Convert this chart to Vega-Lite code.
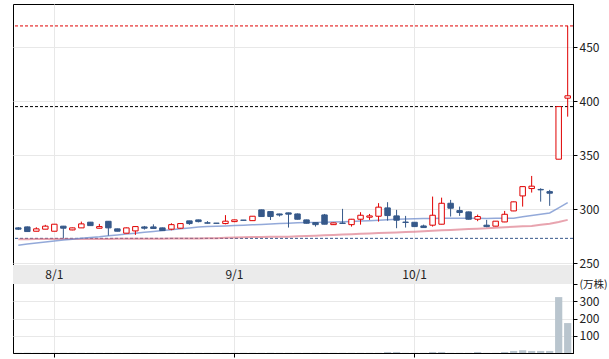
{
  "$schema": "https://vega.github.io/schema/vega-lite/v6.json",
  "width": 560,
  "height": 349,
  "padding": {"left": 12, "top": 4, "right": 0, "bottom": 0},
  "autosize": {"type": "pad"},
  "background": "#ffffff",
  "config": {
    "view": {"stroke": "#000000", "strokeWidth": 1},
    "axis": {"labelFont": "Noto Sans CJK JP", "labelFontSize": 12, "labelColor": "#222222", "gridColor": "#e8e8e8", "domainColor": "#000000", "tickColor": "#000000", "tickSize": 4, "labelPadding": 2}
  },
  "datasets": {
    "k": [
      {"d": "2020-07-28", "o": 282.7, "h": 283.5, "l": 280.7, "c": 281.5, "v": 1, "ma1": 266.7, "ma2": 272.2},
      {"d": "2020-07-29", "o": 283.6, "h": 284.0, "l": 279.0, "c": 279.3, "v": 1, "ma1": 267.7, "ma2": 272.2},
      {"d": "2020-07-30", "o": 279.6, "h": 283.3, "l": 279.6, "c": 281.8, "v": 1, "ma1": 268.7, "ma2": 272.3},
      {"d": "2020-07-31", "o": 281.5, "h": 285.5, "l": 281.5, "c": 284.3, "v": 1, "ma1": 269.6, "ma2": 272.3},
      {"d": "2020-08-03", "o": 279.6, "h": 286.1, "l": 279.6, "c": 286.1, "v": 1, "ma1": 270.6, "ma2": 272.3},
      {"d": "2020-08-04", "o": 284.3, "h": 284.5, "l": 273.0, "c": 282.4, "v": 1, "ma1": 271.4, "ma2": 272.4},
      {"d": "2020-08-05", "o": 280.8, "h": 283.0, "l": 280.5, "c": 282.7, "v": 1, "ma1": 272.2, "ma2": 272.4},
      {"d": "2020-08-06", "o": 282.7, "h": 288.5, "l": 282.7, "c": 286.4, "v": 1, "ma1": 273.0, "ma2": 272.4},
      {"d": "2020-08-07", "o": 288.0, "h": 288.2, "l": 284.8, "c": 284.8, "v": 1, "ma1": 273.8, "ma2": 272.5},
      {"d": "2020-08-11", "o": 282.4, "h": 286.4, "l": 282.4, "c": 283.9, "v": 1, "ma1": 274.5, "ma2": 272.5},
      {"d": "2020-08-12", "o": 288.8, "h": 289.0, "l": 275.6, "c": 282.7, "v": 1, "ma1": 275.4, "ma2": 272.5},
      {"d": "2020-08-13", "o": 281.8, "h": 282.0, "l": 279.5, "c": 279.6, "v": 1, "ma1": 276.2, "ma2": 272.6},
      {"d": "2020-08-14", "o": 277.8, "h": 283.0, "l": 277.8, "c": 282.7, "v": 1, "ma1": 277.0, "ma2": 272.6},
      {"d": "2020-08-17", "o": 279.9, "h": 284.0, "l": 276.2, "c": 283.9, "v": 1, "ma1": 277.8, "ma2": 272.6},
      {"d": "2020-08-18", "o": 283.6, "h": 284.5, "l": 281.1, "c": 282.4, "v": 1, "ma1": 278.6, "ma2": 272.7},
      {"d": "2020-08-19", "o": 283.6, "h": 286.0, "l": 281.8, "c": 282.1, "v": 1, "ma1": 279.4, "ma2": 272.7},
      {"d": "2020-08-20", "o": 282.7, "h": 283.0, "l": 280.0, "c": 280.2, "v": 1, "ma1": 280.2, "ma2": 272.7},
      {"d": "2020-08-21", "o": 281.5, "h": 287.0, "l": 280.5, "c": 285.7, "v": 1, "ma1": 281.0, "ma2": 272.8},
      {"d": "2020-08-24", "o": 282.4, "h": 287.0, "l": 282.0, "c": 286.7, "v": 1, "ma1": 281.8, "ma2": 272.8},
      {"d": "2020-08-25", "o": 289.2, "h": 289.3, "l": 285.5, "c": 286.7, "v": 1, "ma1": 282.6, "ma2": 272.9},
      {"d": "2020-08-26", "o": 290.1, "h": 290.3, "l": 287.8, "c": 288.5, "v": 1, "ma1": 283.5, "ma2": 272.9},
      {"d": "2020-08-27", "o": 287.4, "h": 289.0, "l": 286.7, "c": 287.1, "v": 1, "ma1": 283.9, "ma2": 273.0},
      {"d": "2020-08-28", "o": 287.1, "h": 287.2, "l": 286.8, "c": 286.9, "v": 1, "ma1": 284.2, "ma2": 273.1},
      {"d": "2020-08-31", "o": 286.7, "h": 294.5, "l": 286.0, "c": 288.9, "v": 1, "ma1": 284.5, "ma2": 273.6},
      {"d": "2020-09-01", "o": 288.5, "h": 290.3, "l": 288.0, "c": 290.1, "v": 1, "ma1": 284.8, "ma2": 273.9},
      {"d": "2020-09-02", "o": 289.9, "h": 290.0, "l": 289.6, "c": 289.7, "v": 1, "ma1": 285.1, "ma2": 274.1},
      {"d": "2020-09-03", "o": 289.4, "h": 293.5, "l": 289.4, "c": 293.5, "v": 1, "ma1": 285.5, "ma2": 274.2},
      {"d": "2020-09-04", "o": 299.4, "h": 299.6, "l": 293.2, "c": 293.2, "v": 1, "ma1": 285.9, "ma2": 274.3},
      {"d": "2020-09-07", "o": 297.8, "h": 298.0, "l": 290.0, "c": 293.2, "v": 1, "ma1": 286.3, "ma2": 274.4},
      {"d": "2020-09-08", "o": 295.6, "h": 295.8, "l": 293.2, "c": 294.6, "v": 1, "ma1": 286.7, "ma2": 274.5},
      {"d": "2020-09-09", "o": 296.6, "h": 296.8, "l": 283.0, "c": 295.4, "v": 1, "ma1": 287.1, "ma2": 274.6},
      {"d": "2020-09-10", "o": 295.6, "h": 296.0, "l": 290.5, "c": 290.7, "v": 1, "ma1": 287.5, "ma2": 274.9},
      {"d": "2020-09-11", "o": 290.1, "h": 290.3, "l": 286.8, "c": 287.0, "v": 1, "ma1": 287.7, "ma2": 275.2},
      {"d": "2020-09-14", "o": 287.6, "h": 288.0, "l": 283.9, "c": 285.7, "v": 1, "ma1": 287.8, "ma2": 275.5},
      {"d": "2020-09-15", "o": 294.7, "h": 295.6, "l": 286.0, "c": 286.1, "v": 1, "ma1": 287.9, "ma2": 275.9},
      {"d": "2020-09-16", "o": 285.7, "h": 287.5, "l": 285.5, "c": 287.3, "v": 1, "ma1": 288.1, "ma2": 276.2},
      {"d": "2020-09-17", "o": 287.2, "h": 300.3, "l": 286.5, "c": 286.8, "v": 1, "ma1": 288.3, "ma2": 276.5},
      {"d": "2020-09-18", "o": 285.7, "h": 291.0, "l": 283.9, "c": 290.7, "v": 1, "ma1": 288.6, "ma2": 276.9},
      {"d": "2020-09-23", "o": 290.7, "h": 297.2, "l": 285.7, "c": 294.4, "v": 1, "ma1": 289.0, "ma2": 277.2},
      {"d": "2020-09-24", "o": 292.6, "h": 295.6, "l": 290.1, "c": 293.8, "v": 1, "ma1": 289.4, "ma2": 277.6},
      {"d": "2020-09-25", "o": 293.5, "h": 305.6, "l": 288.5, "c": 301.9, "v": 1, "ma1": 289.8, "ma2": 277.9},
      {"d": "2020-09-28", "o": 301.2, "h": 306.5, "l": 289.4, "c": 294.1, "v": 6, "ma1": 290.2, "ma2": 278.2},
      {"d": "2020-09-29", "o": 293.8, "h": 299.4, "l": 282.4, "c": 289.8, "v": 6, "ma1": 290.6, "ma2": 278.5},
      {"d": "2020-09-30", "o": 288.1, "h": 293.8, "l": 283.0, "c": 287.7, "v": 1, "ma1": 290.9, "ma2": 278.9},
      {"d": "2020-10-01", "o": 287.9, "h": 288.0, "l": 283.5, "c": 283.9, "v": 1, "ma1": 291.1, "ma2": 279.2},
      {"d": "2020-10-02", "o": 284.5, "h": 285.7, "l": 282.8, "c": 283.0, "v": 1, "ma1": 291.3, "ma2": 279.6},
      {"d": "2020-10-05", "o": 285.2, "h": 311.7, "l": 283.9, "c": 294.4, "v": 6, "ma1": 291.5, "ma2": 280.0},
      {"d": "2020-10-06", "o": 286.1, "h": 310.7, "l": 286.0, "c": 305.5, "v": 6, "ma1": 291.6, "ma2": 280.4},
      {"d": "2020-10-07", "o": 305.5, "h": 308.6, "l": 293.2, "c": 300.9, "v": 1, "ma1": 291.6, "ma2": 280.8},
      {"d": "2020-10-08", "o": 298.7, "h": 302.4, "l": 293.8, "c": 296.9, "v": 1, "ma1": 291.7, "ma2": 281.2},
      {"d": "2020-10-09", "o": 297.5, "h": 297.8, "l": 290.5, "c": 290.7, "v": 1, "ma1": 291.6, "ma2": 281.6},
      {"d": "2020-10-12", "o": 290.7, "h": 295.0, "l": 288.9, "c": 293.2, "v": 6, "ma1": 291.6, "ma2": 281.9},
      {"d": "2020-10-13", "o": 285.2, "h": 290.1, "l": 283.3, "c": 283.9, "v": 1, "ma1": 291.5, "ma2": 282.3},
      {"d": "2020-10-14", "o": 284.3, "h": 289.0, "l": 284.2, "c": 288.9, "v": 1, "ma1": 291.6, "ma2": 282.9},
      {"d": "2020-10-15", "o": 288.2, "h": 298.4, "l": 288.0, "c": 295.3, "v": 6, "ma1": 291.6, "ma2": 283.3},
      {"d": "2020-10-16", "o": 298.4, "h": 307.0, "l": 298.2, "c": 306.8, "v": 12, "ma1": 291.7, "ma2": 283.7},
      {"d": "2020-10-19", "o": 312.3, "h": 321.0, "l": 302.4, "c": 320.9, "v": 16, "ma1": 292.9, "ma2": 284.1},
      {"d": "2020-10-20", "o": 319.1, "h": 330.8, "l": 315.4, "c": 321.3, "v": 12, "ma1": 294.1, "ma2": 284.5},
      {"d": "2020-10-21", "o": 318.3, "h": 319.4, "l": 307.0, "c": 317.9, "v": 12, "ma1": 295.3, "ma2": 285.5},
      {"d": "2020-10-22", "o": 316.3, "h": 317.9, "l": 303.1, "c": 314.8, "v": 12, "ma1": 296.5, "ma2": 286.6},
      {"d": "2020-10-23", "o": 346.3, "h": 395.0, "l": 346.3, "c": 395.0, "v": 325, "ma1": 301.2, "ma2": 288.2},
      {"d": "2020-10-26", "o": 402.8, "h": 469.7, "l": 385.7, "c": 405.0, "v": 174, "ma1": 306.0, "ma2": 290.1}
    ],
    "lv": [
      {"p": 469.7, "k": "hi"},
      {"p": 395.0, "k": "mid"},
      {"p": 273.0, "k": "lo"}
    ],
    "m": [
      {"d": "2020-08-03", "t": "8/1"},
      {"d": "2020-09-01", "t": "9/1"},
      {"d": "2020-10-01", "t": "10/1"}
    ]
  },
  "layer": [
    {
      "layer": [
        {
          "data": {"values": [{}]},
          "mark": {"type": "rect", "color": "#ebebeb"},
          "encoding": {
            "y": {"datum": 248.3, "type": "quantitative", "scale": {"domain": [166.85, 490], "zero": false, "nice": false},
              "axis": {"orient": "right", "values": [250, 300, 350, 400, 450], "title": null, "grid": true}},
            "y2": {"datum": 230.7}
          }
        },
        {
          "data": {"name": "lv"},
          "mark": {"type": "rule", "strokeDash": [3, 2], "strokeWidth": 1},
          "encoding": {
            "y": {"field": "p", "type": "quantitative"},
            "color": {"field": "k", "type": "nominal", "scale": {"domain": ["hi", "mid", "lo"], "range": ["#e00000", "#000000", "#34558a"]}, "legend": null}
          }
        },
        {
          "data": {"name": "k"},
          "mark": {"type": "line", "color": "#d9677a", "strokeWidth": 2, "opacity": 0.6},
          "encoding": {
            "x": {"field": "d", "type": "ordinal", "scale": {"paddingInner": 0.2, "paddingOuter": 0.19},
              "axis": {"values": ["2020-08-03", "2020-09-01", "2020-10-01"], "labels": false, "title": null, "grid": true, "bandPosition": 0.5, "ticks": true, "domain": true}},
            "y": {"field": "ma2", "type": "quantitative"}
          }
        },
        {
          "data": {"name": "k"},
          "mark": {"type": "line", "color": "#6f8ccc", "strokeWidth": 1.5, "opacity": 0.75},
          "encoding": {
            "x": {"field": "d", "type": "ordinal"},
            "y": {"field": "ma1", "type": "quantitative"}
          }
        },
        {
          "data": {"name": "k"},
          "mark": {"type": "rule", "strokeWidth": 1},
          "encoding": {
            "x": {"field": "d", "type": "ordinal"},
            "y": {"field": "l", "type": "quantitative"},
            "y2": {"field": "h"},
            "color": {"condition": {"test": "datum.c >= datum.o", "value": "#e00000"}, "value": "#36598a"}
          }
        },
        {
          "data": {"name": "k"},
          "mark": {"type": "bar", "width": {"band": 0.76}, "strokeWidth": 1},
          "encoding": {
            "x": {"field": "d", "type": "ordinal"},
            "y": {"field": "o", "type": "quantitative"},
            "y2": {"field": "c"},
            "fill": {"condition": {"test": "datum.c >= datum.o", "value": "#ffffff"}, "value": "#36598a"},
            "stroke": {"condition": {"test": "datum.c >= datum.o", "value": "#e00000"}, "value": "#36598a"}
          }
        },
        {
          "data": {"name": "m"},
          "mark": {"type": "text", "font": "Noto Sans CJK JP", "fontSize": 12, "color": "#222222", "baseline": "middle"},
          "encoding": {
            "x": {"field": "d", "type": "ordinal"},
            "y": {"datum": 239.5, "type": "quantitative"},
            "text": {"field": "t"}
          }
        }
      ]
    },
    {
      "data": {"name": "k"},
      "mark": {"type": "bar", "color": "#b9c5ce"},
      "encoding": {
        "x": {"field": "d", "type": "ordinal"},
        "y": {"field": "v", "type": "quantitative", "scale": {"domain": [0, 2029], "nice": false, "zero": true},
          "axis": {"orient": "right", "values": [100, 200, 300, 400], "title": null, "grid": true,
            "labelExpr": "datum.value == 400 ? '(万株)' : datum.label",
            "labelFontSize": {"condition": {"test": "datum.value == 400", "value": 10.5}, "value": 12},
            "gridOpacity": {"condition": {"test": "datum.value == 400", "value": 0}, "value": 1}}}
      }
    }
  ],
  "resolve": {"scale": {"y": "independent"}, "axis": {"y": "independent"}}
}
